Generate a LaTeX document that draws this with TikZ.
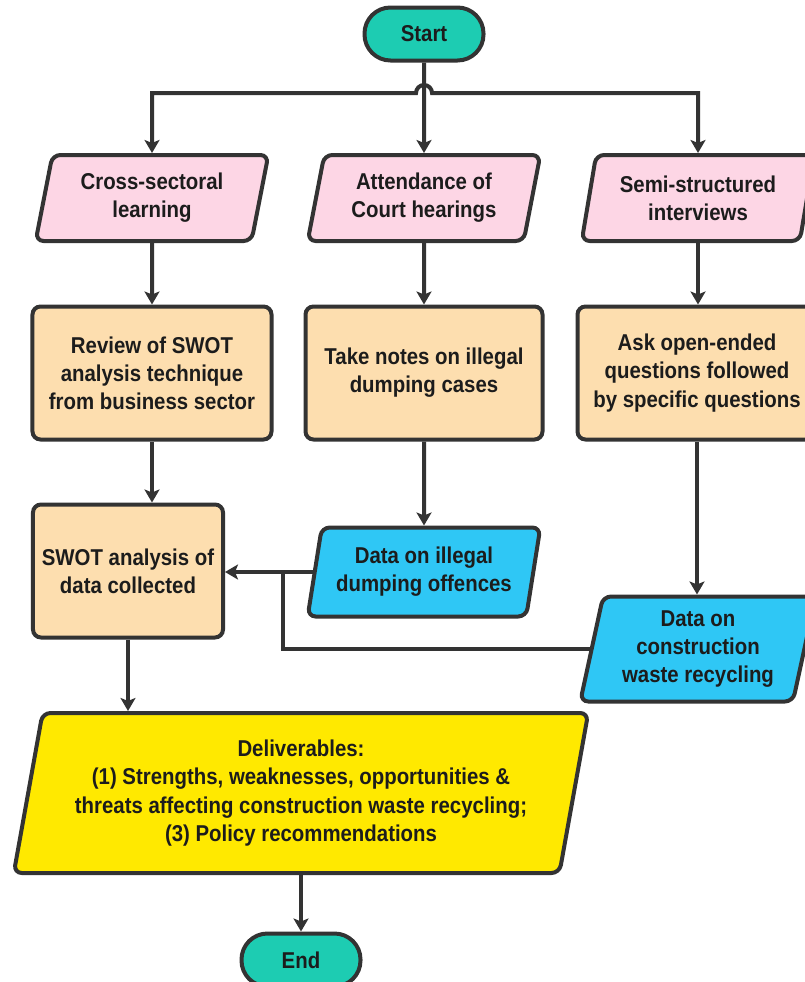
\documentclass[tikz,border=0pt]{standalone}
\usepackage{fontspec}
\setmainfont[FakeStretch=0.89]{Liberation Sans}
\usetikzlibrary{shapes.geometric,arrows.meta}
\definecolor{linegray}{RGB}{51,51,51}
\definecolor{textdark}{RGB}{28,28,28}
\definecolor{termteal}{RGB}{29,204,178}
\definecolor{inpink}{RGB}{253,214,229}
\definecolor{procorange}{RGB}{253,222,175}
\definecolor{datablue}{RGB}{47,199,245}
\definecolor{delivyellow}{RGB}{255,233,0}

\begin{document}
\begin{tikzpicture}[x=1bp, y=-1bp, >={Stealth[length=13bp,width=15bp,inset=3bp]},
    box/.style={draw=linegray, line width=4bp, text=textdark, align=center,
        font=\fontsize{23}{28.3}\selectfont\bfseries, inner sep=2bp},
    terminal/.style={box, fill=termteal, rectangle, rounded corners=26bp,
        minimum width=119bp, minimum height=53bp},
    process/.style={box, fill=procorange, rectangle, rounded corners=8bp,
        minimum height=133bp},
    slanted/.style={box, trapezium, trapezium left angle=77, trapezium right angle=103,
        trapezium stretches=true, rounded corners=8bp},
    conn/.style={draw=linegray, line width=4bp}]
        \useasboundingbox (0,0) rectangle (805,982);
        \clip (0,0) rectangle (805,982);
        % ==== START ====
        \node[terminal] (start) at (424,34) {Start};
        % ==== INPUTS ====
        \node[slanted, fill=inpink, minimum width=233bp, minimum height=86bp] (crossin) at (152,198) {Cross-sectoral\\learning};
        \node[slanted, fill=inpink, minimum width=233bp, minimum height=86bp] (courtin) at (424,198) {Attendance of\\Court hearings};
        \node[slanted, fill=inpink, minimum width=233bp, minimum height=86bp] (interin) at (698,198) {Semi-structured\\interviews};
        % ==== PROCESSES ====
        \node[process, minimum width=239bp] (review) at (152,373) {Review of SWOT\\analysis technique\\from business sector};
        \node[process, minimum width=237bp] (notes) at (424,373) {Take notes on illegal\\dumping cases};
        \node[process, minimum width=239bp] (ask) at (697,373) {Ask open-ended\\questions followed\\by specific questions};
        \node[process, minimum width=190bp] (swot) at (128,571) {SWOT analysis of\\data collected};
        % ==== DATA ====
        \node[slanted, fill=datablue, minimum width=233bp, minimum height=89bp] (dumpdata) at (424,572) {Data on illegal\\dumping offences};
        \node[slanted, fill=datablue, minimum width=236bp, minimum height=105bp] (wastedata) at (698,649) {Data on\\construction\\waste recycling};
        % ==== DELIVERABLES AND END ====
        \node[slanted, fill=delivyellow, minimum width=578bp, minimum height=160bp] (deliv) at (301,793) {Deliverables:\\(1) Strengths, weaknesses, opportunities \&\\threats affecting construction waste recycling;\\(3) Policy recommendations};
        \node[terminal] (end) at (301,960) {End};

        % ==== CONNECTORS ====
        \coordinate (fork) at (424,93);
        \draw[conn, ->] (start) -- (courtin);
        \draw[conn, <->] (crossin.north) -- (crossin.north |- fork) -- ([xshift=-8]fork)
            arc[start angle=180, end angle=360, radius=8] -- (interin.north |- fork) -- (interin.north);
        \draw[conn, ->] (crossin) -- (review);
        \draw[conn, ->] (courtin) -- (notes);
        \draw[conn, ->] (interin.south) -- (interin.south |- ask.north);
        \draw[conn, ->] (review.south) -- (review.south |- swot.north);
        \draw[conn, ->] (notes) -- (dumpdata);
        \draw[conn, ->] (ask.south) -- (ask.south |- wastedata.north);
        \draw[conn, ->] (dumpdata.west) -- (swot.east |- dumpdata.west);
        \coordinate (join) at (283,572);
        \draw[conn] (join) -- (join |- wastedata.west) -- (wastedata.west);
        \draw[conn, ->] (swot.south) -- (swot.south |- deliv.north);
        \draw[conn, ->] (deliv.south -| end) -- (end);
\end{tikzpicture}
\end{document}
